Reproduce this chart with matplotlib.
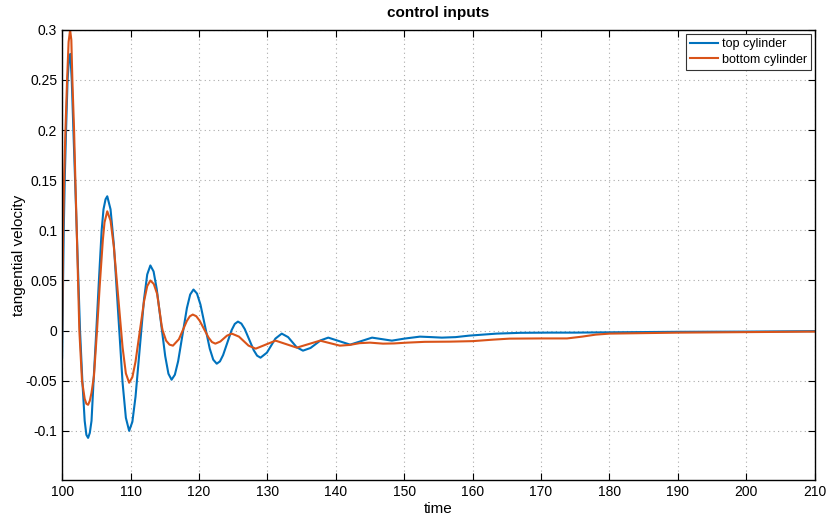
import matplotlib
matplotlib.use('Agg')
import matplotlib.pyplot as plt

# time samples and control inputs
t_top = [100.0, 100.05, 100.24, 100.4, 100.58, 100.8, 101.0, 101.2, 101.41, 101.65,
         101.9, 102.14, 102.38, 102.62, 102.96, 103.3, 103.55, 103.8, 104.05, 104.3,
         104.6, 105.0, 105.38, 105.78, 106.05, 106.35, 106.6, 107.08, 107.56, 108.2,
         108.84, 109.32, 109.8, 110.27, 110.73, 111.35, 111.97, 112.44, 112.9, 113.37,
         113.83, 114.45, 115.07, 115.54, 116.0, 116.48, 116.96, 117.6, 118.24, 118.72,
         119.2, 119.71, 120.22, 120.9, 121.58, 122.09, 122.6, 123.07, 123.53, 124.15,
         124.77, 125.24, 125.7, 126.2, 126.69, 127.35, 128.01, 128.5, 129.0, 129.93,
         130.55, 131.17, 132.1, 133.03, 133.65, 134.27, 135.2, 136.31, 137.05, 137.79,
         138.9, 140.5, 142.1, 143.7, 145.3, 146.75, 148.2, 150.0, 152.3, 154.0,
         155.5, 157.5, 159.5, 161.5, 163.5, 167.0, 171.3, 175.0, 180.0, 190.0,
         200.0, 210.0]
u_top = [-0.027, 0.0, 0.1, 0.155, 0.2, 0.25, 0.271, 0.276, 0.25, 0.2,
         0.15, 0.1, 0.05, 0.0, -0.05, -0.09, -0.104, -0.107, -0.102, -0.09,
         -0.05, 0.0, 0.05, 0.1, 0.121, 0.131, 0.134, 0.121, 0.086, 0.017,
         -0.052, -0.087, -0.1, -0.091, -0.066, -0.0175, 0.031, 0.056, 0.065, 0.059,
         0.0415, 0.008, -0.0255, -0.043, -0.049, -0.044, -0.0305, -0.004, 0.0225, 0.036,
         0.041, 0.037, 0.026, 0.004, -0.018, -0.029, -0.033, -0.0307, -0.0244, -0.012,
         0.0004, 0.0067, 0.009, 0.007, 0.0016, -0.009, -0.0196, -0.025, -0.027, -0.022,
         -0.015, -0.008, -0.003, -0.0065, -0.0115, -0.0165, -0.02, -0.0173, -0.0135, -0.0097,
         -0.007, -0.0105, -0.014, -0.0105, -0.007, -0.0085, -0.01, -0.008, -0.006, -0.0065,
         -0.007, -0.0065, -0.005, -0.004, -0.003, -0.0022, -0.002, -0.002, -0.0017, -0.0012,
         -0.001, -0.0005]

t_bot = [100.0, 100.08, 100.15, 100.29, 100.49, 100.73, 100.95, 101.17, 101.35, 101.5,
         101.75, 101.94, 102.14, 102.33, 102.52, 102.91, 103.3, 103.55, 103.8, 104.05,
         104.3, 104.66, 105.1, 105.5, 105.95, 106.2, 106.6, 107.08, 107.56, 108.2,
         108.84, 109.32, 109.8, 110.27, 110.73, 111.35, 111.97, 112.44, 112.9, 113.4,
         113.89, 114.55, 114.7, 115.2, 115.7, 116.2, 117.07, 117.65, 118.23, 118.67,
         119.1, 119.6, 120.09, 120.75, 121.41, 121.9, 122.4, 123.12, 123.6, 124.08,
         124.8, 125.85, 126.55, 127.25, 128.3, 129.75, 131.2, 132.75, 134.3, 136.0,
         137.7, 139.15, 140.6, 142.0, 143.5, 145.0, 146.9, 148.5, 150.4, 153.0,
         156.7, 160.0, 163.0, 165.4, 170.0, 173.8, 176.0, 178.0, 180.0, 185.0,
         190.3, 200.0, 210.0]
u_bot = [-0.008, 0.05, 0.1, 0.15, 0.2, 0.25, 0.288, 0.3, 0.29, 0.25,
         0.2, 0.15, 0.1, 0.05, 0.0, -0.05, -0.068, -0.073, -0.074, -0.07,
         -0.062, -0.045, 0.0, 0.045, 0.09, 0.108, 0.119, 0.1097, 0.0838, 0.0335,
         -0.0168, -0.0427, -0.052, -0.0464, -0.031, -0.001, 0.029, 0.0444, 0.05, 0.0465,
         0.0366, 0.005, 0.0, -0.01, -0.014, -0.015, -0.0086, 0.0005, 0.0096, 0.0143,
         0.016, 0.0144, 0.01, 0.0015, -0.007, -0.0114, -0.013, -0.0109, -0.008, -0.0051,
         -0.003, -0.006, -0.0105, -0.015, -0.018, -0.014, -0.01, -0.0135, -0.017, -0.0135,
         -0.01, -0.0125, -0.015, -0.0143, -0.0125, -0.012, -0.013, -0.0128, -0.012, -0.0112,
         -0.011, -0.0105, -0.009, -0.008, -0.0078, -0.0078, -0.006, -0.004, -0.003, -0.0025,
         -0.002, -0.0015, -0.001]

x_ticks = [100, 110, 120, 130, 140, 150, 160, 170, 180, 190, 200, 210]
y_ticks = [-0.1, -0.05, 0, 0.05, 0.1, 0.15, 0.2, 0.25, 0.3]
y_labels = ['-0.1', '-0.05', '0', '0.05', '0.1', '0.15', '0.2', '0.25', '0.3']

plt.rcParams['font.family'] = ['Liberation Sans', 'DejaVu Sans']

fig = plt.figure(figsize=(8.28, 5.15), dpi=100)
ax = fig.add_axes([0.075, 0.068, 0.909, 0.874])

ax.plot(t_top, u_top, color='#0072BD', lw=1.5, label='top cylinder')
ax.plot(t_bot, u_bot, color='#D95319', lw=1.5, label='bottom cylinder')

ax.set_xlim(100, 210)
ax.set_ylim(-0.149, 0.3)
ax.set_xticks(x_ticks)
ax.set_yticks(y_ticks)
ax.set_yticklabels(y_labels)
ax.tick_params(direction='in', top=True, right=True, labelsize=10, length=5, width=0.8)
ax.grid(True, linestyle=(0, (1, 3)), color='#aaaaaa', linewidth=0.8)
for s in ax.spines.values():
    s.set_linewidth(1.0)

ax.set_title('control inputs', fontsize=11, fontweight='bold', pad=9)
ax.set_xlabel('time', fontsize=11, labelpad=2)
ax.set_ylabel('tangential velocity', fontsize=11, labelpad=0)

leg = ax.legend(loc='upper right', fontsize=9, fancybox=False, framealpha=1,
                edgecolor='#333333', handlelength=2.2, handletextpad=0.3,
                borderpad=0.35, labelspacing=0.3, borderaxespad=0.3)
leg.get_frame().set_linewidth(0.8)

fig.savefig('out.png', dpi=100)
